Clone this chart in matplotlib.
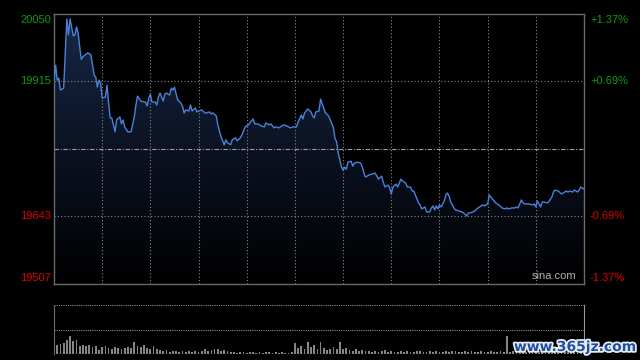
import numpy as np
import matplotlib
matplotlib.use("Agg")
import matplotlib.pyplot as plt
from matplotlib.colors import LinearSegmentedColormap
from matplotlib.patches import Polygon
import matplotlib.patheffects as pe

# Hang Seng intraday, minutes from the open (lunch break removed)
PREV_CLOSE = 19778.5
Y_MIN, Y_MAX = 19507, 20050
TOTAL_MIN = 330

minutes = [
    0, 1, 2, 3, 4, 6, 7, 8, 9, 10, 12, 13, 14, 15, 16, 17, 18, 21, 23, 24,
    25, 26, 27, 28, 29, 30, 32, 33, 34, 35, 36, 38, 39, 41, 42, 43, 44, 46, 48, 50,
    51, 52, 54, 56, 57, 58, 59, 60, 61, 63, 64, 65, 66, 68, 69, 70, 72, 73, 74, 75,
    77, 79, 80, 81, 82, 84, 85, 86, 88, 89, 90, 92, 94, 95, 97, 98, 99, 101, 102, 104,
    106, 107, 108, 110, 111, 113, 114, 116, 117, 119, 121, 122, 124, 125, 127, 129, 131, 132, 134, 135,
    137, 138, 140, 141, 143, 145, 147, 149, 151, 152, 154, 155, 156, 158, 160, 161, 162, 163, 165, 166,
    167, 169, 171, 172, 174, 175, 176, 177, 178, 179, 180, 181, 182, 183, 185, 186, 187, 189, 191, 192,
    193, 194, 196, 198, 200, 201, 202, 204, 205, 206, 208, 209, 210, 211, 213, 214, 216, 217, 219, 220,
    222, 223, 224, 225, 227, 228, 229, 231, 232, 234, 235, 236, 237, 238, 239, 240, 241, 243, 244, 245,
    246, 247, 249, 250, 252, 254, 255, 257, 258, 259, 261, 262, 264, 265, 267, 268, 270, 271, 272, 274,
    275, 277, 279, 281, 282, 283, 285, 287, 288, 289, 291, 292, 293, 296, 298, 299, 300, 301, 302, 303,
    304, 305, 307, 308, 310, 311, 312, 314, 316, 317, 319, 320, 321, 323, 324, 326, 327, 328, 329, 330,
]
prices = [
    19917, 19947, 19917, 19921, 19897, 19901, 19972, 20040, 20008, 20040, 20006, 20008, 20024, 20012, 19984, 19959, 19964, 19972, 19968, 19947,
    19927, 19923, 19903, 19917, 19911, 19881, 19883, 19907, 19871, 19841, 19841, 19813, 19837, 19843, 19829, 19837, 19823, 19813, 19813, 19843,
    19867, 19885, 19875, 19873, 19873, 19865, 19881, 19889, 19873, 19873, 19867, 19883, 19891, 19875, 19889, 19891, 19887, 19901, 19897, 19903,
    19877, 19871, 19865, 19851, 19857, 19855, 19867, 19855, 19861, 19853, 19855, 19857, 19851, 19851, 19853, 19849, 19851, 19845, 19827, 19803,
    19787, 19797, 19791, 19787, 19797, 19801, 19795, 19801, 19807, 19823, 19827, 19831, 19839, 19829, 19829, 19825, 19823, 19831, 19827, 19829,
    19821, 19823, 19821, 19823, 19827, 19825, 19821, 19823, 19823, 19833, 19847, 19839, 19851, 19859, 19853, 19845, 19841, 19853, 19855, 19879,
    19869, 19851, 19845, 19837, 19821, 19799, 19793, 19770, 19756, 19742, 19736, 19742, 19738, 19752, 19754, 19744, 19750, 19752, 19750, 19742,
    19730, 19722, 19726, 19728, 19730, 19724, 19718, 19724, 19712, 19702, 19706, 19700, 19688, 19702, 19708, 19702, 19718, 19714, 19710, 19702,
    19702, 19694, 19694, 19686, 19670, 19666, 19658, 19662, 19652, 19652, 19660, 19664, 19656, 19664, 19658, 19666, 19662, 19674, 19686, 19690,
    19684, 19672, 19660, 19656, 19654, 19652, 19650, 19644, 19650, 19650, 19652, 19654, 19660, 19662, 19666, 19664, 19668, 19686, 19682, 19674,
    19670, 19666, 19660, 19658, 19660, 19658, 19660, 19660, 19662, 19660, 19676, 19670, 19668, 19668, 19666, 19668, 19662, 19674, 19668, 19662,
    19672, 19672, 19670, 19672, 19682, 19692, 19696, 19694, 19688, 19690, 19694, 19692, 19694, 19692, 19696, 19692, 19696, 19702, 19700, 19698,
]

# volume, one bar every 2 minutes (relative units)
volume = [
    14, 9, 10, 11, 14, 18, 13, 14, 8, 9, 8, 9, 7, 8, 4, 7, 8, 6, 5, 7, 6, 5, 6, 7, 6, 12, 8, 7, 9, 6, 5, 8, 5, 4,
    3, 4, 2, 3, 3, 2, 3, 2, 3, 2, 3, 2, 3, 5, 3, 4,
    5, 5, 3, 4, 3,
    2, 2, 1, 2, 2, 1, 2, 2, 1, 2, 1, 2, 2, 1, 2, 1, 2, 1, 1, 2,
    11, 6, 8, 5, 12, 7, 9, 5, 12, 6, 4, 5, 7, 5, 12, 5, 6, 4, 3, 5, 3, 4, 3,
    3, 2, 3, 2, 3, 4, 2, 3, 2, 2, 3, 2, 3, 2, 2, 3, 3, 2, 2, 3, 2, 3, 2, 2, 3, 2, 3, 3, 2, 2, 3, 2, 3, 2, 2, 3, 2, 2, 3, 2, 2, 3, 2,
    18,
    2, 3, 2, 2, 3, 2, 2, 3, 2, 3, 2, 2, 3, 2, 2, 3, 2, 2, 3, 2, 2, 3, 2, 3,
]
vol_minutes = np.arange(0, TOTAL_MIN + 1, 2)

left_ticks = [20050, 19915, 19643, 19507]
left_labels = ["20050", "19915", "19643", "19507"]
right_labels = ["+1.37%", "+0.69%", "-0.69%", "-1.37%"]
label_colors = ["#0f9a0f", "#0f9a0f", "#e00000", "#e00000"]

GRID = "#8a8a8a"
SPINE = "#6a6a6a"
LINE = "#4a82d8"

plt.rcParams["font.family"] = ["Liberation Sans", "DejaVu Sans"]

fig = plt.figure(figsize=(6.4, 3.6), dpi=100, facecolor="black")
ax = fig.add_axes([54 / 640, 1 - 284 / 360, 530 / 640, 270 / 360])
vax = fig.add_axes([54 / 640, 1 - 354 / 360, 530 / 640, 49 / 360])

# main price panel
ax.set_facecolor("black")
ax.set_xlim(0, TOTAL_MIN)
ax.set_ylim(Y_MIN, Y_MAX)

verts = [(minutes[0], Y_MIN)] + list(zip(minutes, prices)) + [(minutes[-1], Y_MIN)]
clip = Polygon(verts, closed=True, facecolor="none", edgecolor="none")
ax.add_patch(clip)
cmap = LinearSegmentedColormap.from_list("fade", ["#000000", "#0b1222", "#182847"])
grad = np.linspace(0, 1, 256).reshape(-1, 1)
im = ax.imshow(grad, extent=[0, TOTAL_MIN, Y_MIN, Y_MAX], origin="lower",
               aspect="auto", cmap=cmap, zorder=1)
im.set_clip_path(clip)

for m in range(30, TOTAL_MIN, 30):
    ax.axvline(m, color=GRID, lw=0.8, ls=(0, (1, 2)), zorder=2)
for v in [19915, 19643]:
    ax.axhline(v, color=GRID, lw=0.8, ls=(0, (1, 2)), zorder=2)
ax.axhline(PREV_CLOSE, color="#a0a0a0", lw=0.8, ls=(0, (4, 1.5, 1, 1.5)), zorder=2)

ax.plot(minutes, prices, color=LINE, lw=1.0, zorder=3)

ax.set_xticks([])
ax.set_yticks([])
for s in ax.spines.values():
    s.set_color(SPINE)
    s.set_linewidth(1.0)

trans = ax.get_yaxis_transform()
for i, (v, lab, rlab, c) in enumerate(zip(left_ticks, left_labels, right_labels, label_colors)):
    off = 0
    if i == 0:
        off = -6
    elif i == len(left_ticks) - 1:
        off = 6
    ax.annotate(lab, xy=(0, v), xycoords=trans, xytext=(-3, off), textcoords="offset pixels",
                ha="right", va="center", color=c, fontsize=8)
    ax.annotate(rlab, xy=(1, v), xycoords=trans, xytext=(6, off), textcoords="offset pixels",
                ha="left", va="center", color=c, fontsize=8)

ax.text(0.985, 0.012, "sina.com", transform=ax.transAxes, ha="right", va="bottom",
        color="#b0b0b0", fontsize=8)

# volume panel
vax.set_facecolor("black")
vax.set_xlim(0, TOTAL_MIN)
vax.set_ylim(0, 49)
vax.bar(vol_minutes, volume, width=1.1, color="#858585", align="center", zorder=2)
for y in [0.3, 24.5, 48.7]:
    vax.axhline(y, color=GRID, lw=0.8, ls=(0, (1, 1)), zorder=1)
vax.set_xticks([])
vax.set_yticks([])
vax.spines["top"].set_visible(False)
vax.spines["bottom"].set_visible(False)
vax.spines["left"].set_color(SPINE)
vax.spines["right"].set_color("#9a9a9a")
vax.spines["right"].set_linewidth(0.8)

fig.text(575 / 640, 1 - 347 / 360, "www.365jz.com", ha="center", va="center",
         color="#1f4f9e", fontsize=10, fontweight="bold", family="DejaVu Sans",
         path_effects=[pe.withStroke(linewidth=2.5, foreground="#e8eef8")])

fig.savefig("out.png", dpi=100, facecolor="black")
